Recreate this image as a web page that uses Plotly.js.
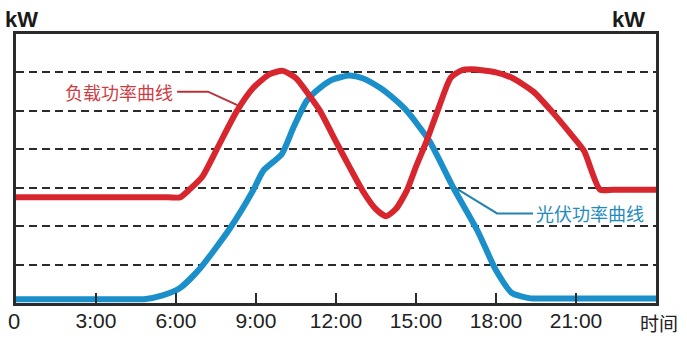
<!DOCTYPE html>
<html><head><meta charset="utf-8">
<script src="https://cdn.plot.ly/plotly-3.0.1.min.js"></script>
<style>html,body{margin:0;padding:0;background:#fff}#c{width:687px;height:344px}</style>
</head><body><div id="c"></div>
<script>
// Load power curve (hours, relative kW)
const loadHours = [0, 5.7, 6.15, 6.5, 7.0, 7.5, 8.27, 8.9, 9.5, 10.0, 10.5, 11.0, 11.4, 12.0, 12.5, 13.0, 13.5, 13.88, 14.25, 14.66, 15.0, 15.4, 15.8, 16.3, 16.7, 17.1, 18.0, 18.6, 19.4, 20.1, 20.8, 21.3, 21.9, 22.4, 24];
const loadKW    = [2.75, 2.75, 2.75, 2.95, 3.3, 3.96, 4.98, 5.6, 5.95, 6.04, 5.85, 5.4, 5.0, 4.2, 3.55, 2.92, 2.44, 2.26, 2.45, 2.93, 3.55, 4.22, 4.98, 5.86, 6.05, 6.08, 6.0, 5.86, 5.5, 4.98, 4.4, 3.96, 2.95, 2.95, 2.95];
// PV power curve
const pvHours = [0, 4.3, 4.8, 5.5, 6.15, 6.9, 8.0, 8.9, 9.27, 9.97, 10.4, 10.9, 11.4, 11.9, 12.5, 13.0, 13.65, 14.2, 14.65, 15.5, 16.4, 17.3, 18.0, 18.6, 19.3, 19.9, 24];
const pvKW    = [0.1, 0.1, 0.1, 0.2, 0.39, 0.9, 1.92, 2.94, 3.44, 3.88, 4.56, 5.26, 5.6, 5.82, 5.92, 5.85, 5.6, 5.3, 5.0, 4.22, 3.0, 1.89, 0.85, 0.26, 0.12, 0.12, 0.12];
// Leader lines for labels
const loadLeaderX = [6.04, 7.2, 8.3];
const loadLeaderY = [5.5, 5.5, 5.15];
const pvLeaderX = [16.46, 18.04, 19.39];
const pvLeaderY = [3.0, 2.33, 2.33];
// Tick labels
const tickHours = [3, 6, 9, 12, 15, 18, 21];
const tickLabels = ['3:00', '6:00', '9:00', '12:00', '15:00', '18:00', '21:00'];
const gridLevels = [1, 2, 3, 4, 5, 6];

const RED = '#d8262f', BLUE = '#1a8fca';
const traces = [
  {x: pvHours, y: pvKW, mode: 'lines', line: {color: BLUE, width: 6, shape: 'spline', smoothing: 0.6}, hoverinfo: 'skip'},
  {x: loadHours, y: loadKW, mode: 'lines', line: {color: RED, width: 6, shape: 'spline', smoothing: 0.6}, hoverinfo: 'skip'},
  {x: loadLeaderX, y: loadLeaderY, mode: 'lines', line: {color: '#b8323a', width: 2}, hoverinfo: 'skip'},
  {x: pvLeaderX, y: pvLeaderY, mode: 'lines', line: {color: '#2283ad', width: 2}, hoverinfo: 'skip'}
];
const layout = {
  width: 687, height: 344,
  margin: {l: 16, r: 31, t: 34, b: 41},
  paper_bgcolor: '#fff', plot_bgcolor: '#fff',
  showlegend: false,
  xaxis: {range: [0, 24], tickvals: tickHours, ticktext: tickLabels, ticks: 'inside', ticklen: 10, tickwidth: 2, tickcolor: '#2b2b2b',
          showline: true, linecolor: '#2b2b2b', linewidth: 3, mirror: true, showgrid: false, zeroline: false,
          tickfont: {family: 'Liberation Sans, Arial, sans-serif', size: 21, color: '#222'}, ticklabelstandoff: -3, fixedrange: true},
  yaxis: {range: [0, 7], tickvals: gridLevels, showticklabels: false, ticks: '', showline: true, linecolor: '#2b2b2b', linewidth: 3, mirror: true,
          showgrid: true, gridcolor: '#2b2b2b', gridwidth: 2, griddash: '8px,5px', zeroline: false, fixedrange: true},
  annotations: [
    {xref: 'paper', yref: 'paper', x: 0, y: 1, xshift: -13, yshift: 0, xanchor: 'left', yanchor: 'bottom', text: '<b>kW</b>', showarrow: false,
     font: {family: 'Liberation Sans, Arial, sans-serif', size: 22, color: '#1a1a1a'}},
    {xref: 'paper', yref: 'paper', x: 1, y: 1, xshift: -9, yshift: 0, xanchor: 'right', yanchor: 'bottom', text: '<b>kW</b>', showarrow: false,
     font: {family: 'Liberation Sans, Arial, sans-serif', size: 22, color: '#1a1a1a'}},
    {xref: 'x', yref: 'paper', x: 0, y: 0, xshift: -2, yshift: -4, xanchor: 'center', yanchor: 'top', text: '0', showarrow: false,
     font: {family: 'Liberation Sans, Arial, sans-serif', size: 22, color: '#222'}},
    {xref: 'paper', yref: 'paper', x: 1, y: 0, xshift: 3, yshift: -4, xanchor: 'center', yanchor: 'top', text: '时间', showarrow: false,
     font: {family: 'Noto Sans CJK SC, sans-serif', size: 19, color: '#222'}},
    {xref: 'x', yref: 'y', x: loadLeaderX[0], y: loadLeaderY[0], xshift: -2, xanchor: 'right', yanchor: 'middle', text: '负载功率曲线', showarrow: false,
     font: {family: 'Noto Sans CJK SC, sans-serif', size: 18, color: '#cf3c44'}},
    {xref: 'x', yref: 'y', x: pvLeaderX[2], y: pvLeaderY[2], xshift: 1, xanchor: 'left', yanchor: 'middle', text: '光伏功率曲线', showarrow: false,
     font: {family: 'Noto Sans CJK SC, sans-serif', size: 18, color: '#1f8bbd'}}
  ]
};
Plotly.newPlot('c', traces, layout, {staticPlot: true, displayModeBar: false});
</script></body></html>
